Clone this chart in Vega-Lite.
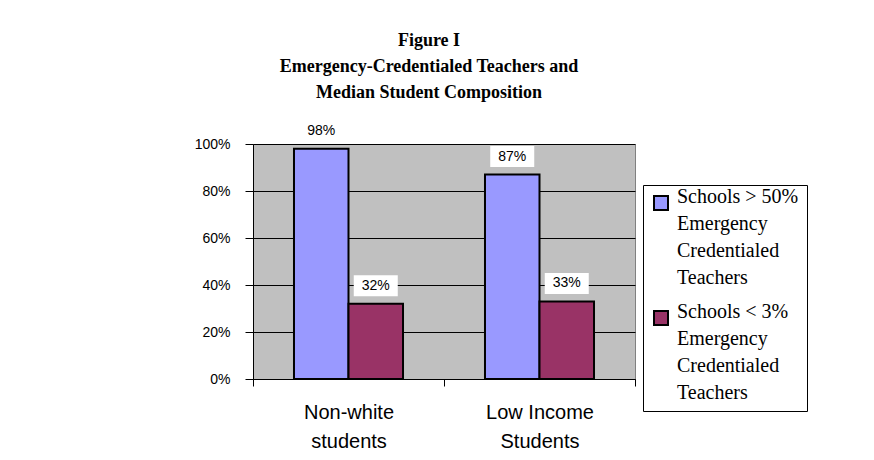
{
  "$schema": "https://vega.github.io/schema/vega-lite/v6.json",
  "width": 382,
  "height": 235,
  "autosize": {"type": "none"},
  "padding": {"left": 253, "top": 144, "right": 239, "bottom": 81},
  "background": "white",
  "config": {
    "view": {"fill": "#C0C0C0", "stroke": "#808080", "strokeWidth": 1}
  },
  "title": {
    "text": ["Figure I", "Emergency-Credentialed Teachers and", "Median Student Composition"],
    "font": "Liberation Serif",
    "fontSize": 18,
    "fontWeight": "bold",
    "lineHeight": 26,
    "anchor": "middle",
    "frame": "group",
    "dx": -15,
    "offset": 18,
    "color": "black"
  },
  "data": {
    "values": [
      {"category": "Non-white students", "series": "Schools > 50% Emergency Credentialed Teachers", "pct": 98, "label": "98%"},
      {"category": "Non-white students", "series": "Schools < 3% Emergency Credentialed Teachers", "pct": 32, "label": "32%"},
      {"category": "Low Income Students", "series": "Schools > 50% Emergency Credentialed Teachers", "pct": 87, "label": "87%"},
      {"category": "Low Income Students", "series": "Schools < 3% Emergency Credentialed Teachers", "pct": 33, "label": "33%"}
    ]
  },
  "encoding": {
    "x": {
      "field": "category",
      "type": "nominal",
      "sort": null,
      "scale": {"paddingInner": 0, "paddingOuter": 0},
      "axis": {
        "title": null,
        "labelAngle": 0,
        "tickBand": "extent",
        "tickSize": 7,
        "tickColor": "black",
        "domainColor": "black",
        "labelFont": "Liberation Sans",
        "labelFontSize": 20,
        "labelColor": "black",
        "labelLineHeight": 29,
        "labelPadding": 16,
        "labelBaseline": "top",
        "grid": false,
        "labelExpr": "datum.label == 'Non-white students' ? ['Non-white', 'students'] : datum.label == 'Low Income Students' ? ['Low Income', 'Students'] : ''"
      }
    },
    "xOffset": {
      "field": "series",
      "type": "nominal",
      "sort": null,
      "scale": {"paddingInner": 0, "paddingOuter": 0.752}
    },
    "y": {
      "field": "pct",
      "type": "quantitative",
      "scale": {"domain": [0, 100]},
      "axis": {
        "title": null,
        "values": [0, 20, 40, 60, 80, 100],
        "labelExpr": "datum.value + '%'",
        "labelFont": "Liberation Sans",
        "labelFontSize": 14,
        "labelColor": "black",
        "tickColor": "black",
        "tickSize": 8,
        "labelPadding": 15,
        "domainColor": "black",
        "gridColor": "black",
        "gridWidth": 1
      }
    }
  },
  "layer": [
    {
      "mark": {"type": "bar", "stroke": "black", "strokeWidth": 2},
      "encoding": {
        "color": {
          "field": "series",
          "type": "nominal",
          "sort": null,
          "scale": {"range": ["#9999FF", "#993366"]},
          "legend": {
            "orient": "none",
            "legendX": 390,
            "legendY": 41,
            "title": null,
            "symbolType": "square",
            "symbolSize": 196,
            "symbolStrokeColor": "black",
            "symbolStrokeWidth": 2,
            "labelFont": "Liberation Serif",
            "labelFontSize": 20,
            "labelColor": "black",
            "labelLimit": 400,
            "labelBaseline": "alphabetic",
            "labelOffset": 6,
            "strokeColor": "black",
            "fillColor": "white",
            "padding": 8,
            "rowPadding": 14,
            "cornerRadius": 0,
            "labelExpr": "indexof(datum.label, '>') > 0 ? ['Schools > 50%', 'Emergency', 'Credentialed', 'Teachers'] : ['Schools < 3%', 'Emergency', 'Credentialed', 'Teachers']",
            "encode": {
              "labels": {"update": {"lineHeight": {"value": 27}}}
            }
          }
        }
      }
    },
    {
      "mark": {"type": "point", "shape": "M-1,-0.48H1V0.48H-1Z", "size": 1936, "filled": true, "color": "white", "opacity": 1, "strokeWidth": 0, "yOffset": -18}
    },
    {
      "mark": {"type": "text", "font": "Liberation Sans", "fontSize": 14, "yOffset": -18, "baseline": "middle", "align": "center", "color": "black"},
      "encoding": {"text": {"field": "label"}}
    }
  ]
}
